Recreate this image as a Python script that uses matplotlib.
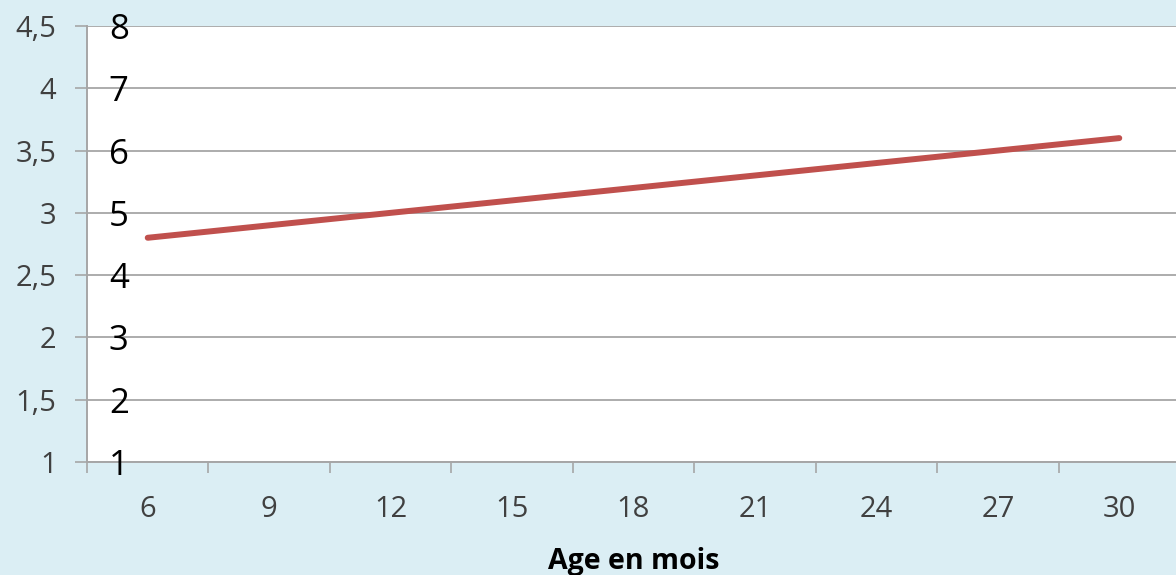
import matplotlib
matplotlib.use("Agg")
import matplotlib.pyplot as plt

# data
months = [6, 9, 12, 15, 18, 21, 24, 27, 30]
values = [2.8, 2.9, 3.0, 3.1, 3.2, 3.3, 3.4, 3.5, 3.6]
left_ticks = [1, 1.5, 2, 2.5, 3, 3.5, 4, 4.5]
left_labels = ["1", "1,5", "2", "2,5", "3", "3,5", "4", "4,5"]
inner_ticks = [1, 2, 3, 4, 5, 6, 7, 8]

bg = "#dbeef4"
grid_col = "#a6a6a6"
text_col = "#404040"

plt.rcParams['font.family'] = ['Open Sans', 'DejaVu Sans']

fig = plt.figure(figsize=(11.76, 5.75), dpi=100, facecolor=bg)
ax = fig.add_axes([87 / 1176, 113 / 575, (1180 - 87) / 1176, (462 - 26) / 575])
ax.set_facecolor("white")

ax.plot(months, values, color="#c0504d", lw=4.3, solid_capstyle="round", zorder=3)

ax.set_xlim(4.5, 31.5)
ax.set_ylim(1, 4.5)

# y axis
ax.set_yticks(left_ticks)
ax.set_yticklabels(left_labels)
ax.tick_params(axis="y", direction="out", length=9, width=1.2, color=grid_col,
               labelsize=21, labelcolor=text_col, pad=13)
ax.yaxis.grid(True, color=grid_col, lw=1.3)

# x axis: ticks between categories, labels on categories
ax.set_xticks([m - 1.5 for m in months] + [31.5])
ax.set_xticklabels([])
ax.set_xticks(months, minor=True)
ax.set_xticklabels([str(m) for m in months], minor=True)
ax.tick_params(axis="x", which="major", direction="out", length=8, width=1.2, color=grid_col)
ax.tick_params(axis="x", which="minor", length=0, labelsize=21, labelcolor=text_col, pad=24)
ax.set_xlabel("Age en mois", fontsize=20.5, fontweight="bold", color="black", labelpad=16)

for s in ["top", "right"]:
    ax.spines[s].set_visible(False)
for s in ["left", "bottom"]:
    ax.spines[s].set_color(grid_col)
    ax.spines[s].set_linewidth(1.4)
ax.set_axisbelow(True)

# second scale drawn inside the plot
ax2 = ax.twinx()
ax2.set_ylim(1, 8)
ax2.set_yticks(inner_ticks)
ax2.tick_params(axis="y", left=True, right=False, labelleft=True, labelright=False,
                length=0, labelsize=25, labelcolor="black", pad=-30)
for s in ax2.spines.values():
    s.set_visible(False)

fig.savefig("out.png", dpi=100, facecolor=bg)
